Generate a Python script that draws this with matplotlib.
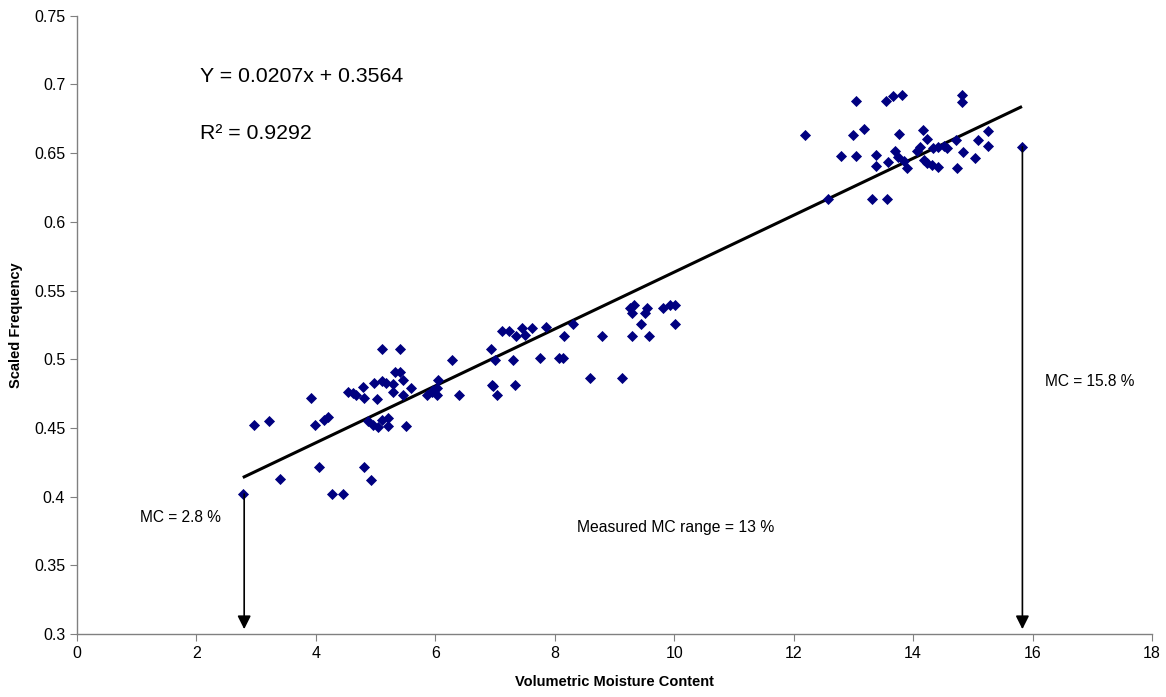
import numpy as np
import matplotlib.pyplot as plt

plt.rcParams['font.family'] = ['Liberation Sans', 'DejaVu Sans']

# measured points (volumetric moisture content, scaled frequency)
mc = [5.11, 5.41, 5.33, 5.41, 5.46, 4.97, 5.11, 5.18, 5.29, 4.79, 5.59, 4.54,
      4.62, 4.67, 4.81, 5.03, 5.29, 5.46, 3.92, 2.96, 3.22, 3.99, 4.14, 4.20,
      4.87, 4.96, 5.11, 5.21, 5.04, 5.21, 5.51, 4.05, 4.81, 3.40, 4.92, 2.78,
      4.27, 4.46,
      5.86, 5.95, 6.05, 6.03, 6.03, 5.96, 6.28, 6.40, 6.93, 7.00, 6.95, 6.97,
      7.04, 7.12, 7.24, 7.35, 7.30, 7.34, 7.45, 7.50, 7.62, 7.76, 7.86, 8.07,
      8.14, 8.16, 8.31, 8.59, 8.79, 9.13, 9.26, 9.33, 9.30, 9.45, 9.30, 9.51,
      9.55, 9.58, 9.82, 9.93, 10.02, 10.02,
      12.19, 12.58, 12.80, 13.00, 13.05, 13.05, 13.18, 13.32, 13.38, 13.38,
      13.55, 13.57, 13.58, 13.67, 13.69, 13.74, 13.77, 13.82, 13.84, 13.89,
      14.07, 14.12, 14.17, 14.24, 14.19, 14.24, 14.32, 14.34, 14.41, 14.42,
      14.52, 14.57, 14.71, 14.74, 14.82, 14.82, 14.84, 15.03, 15.08, 15.26,
      15.26, 15.83]
freq = [0.5075, 0.5075, 0.4907, 0.4907, 0.4849, 0.4827, 0.4842, 0.4827, 0.4820,
        0.4798, 0.4791, 0.4761, 0.4754, 0.4740, 0.4718, 0.4710, 0.4761, 0.4740,
        0.4718, 0.4521, 0.4550, 0.4521, 0.4557, 0.4579, 0.4550, 0.4521, 0.4557,
        0.4572, 0.4506, 0.4514, 0.4514, 0.4215, 0.4215, 0.4128, 0.4120, 0.4019,
        0.4019, 0.4019,
        0.4740, 0.4761, 0.4849, 0.4791, 0.4740, 0.4776, 0.4995, 0.4740, 0.5075,
        0.4995, 0.4812, 0.4805, 0.4740, 0.5206, 0.5206, 0.5169, 0.4995, 0.4812,
        0.5228, 0.5177, 0.5228, 0.5009, 0.5235, 0.5009, 0.5009, 0.5169, 0.5257,
        0.4863, 0.5169, 0.4863, 0.5373, 0.5395, 0.5337, 0.5257, 0.5169, 0.5337,
        0.5373, 0.5169, 0.5373, 0.5395, 0.5395, 0.5257,
        0.6633, 0.6167, 0.6480, 0.6633, 0.6881, 0.6480, 0.6677, 0.6167, 0.6488,
        0.6407, 0.6881, 0.6167, 0.6437, 0.6917, 0.6517, 0.6473, 0.6641, 0.6925,
        0.6444, 0.6393, 0.6517, 0.6546, 0.6670, 0.6604, 0.6451, 0.6429, 0.6415,
        0.6539, 0.6400, 0.6546, 0.6553, 0.6539, 0.6597, 0.6393, 0.6925, 0.6874,
        0.6510, 0.6466, 0.6597, 0.6662, 0.6553, 0.6546]

slope = 0.0207
intercept = 0.3564
mc_min = 2.8
mc_max = 15.8

fig = plt.figure(figsize=(11.66, 6.97), dpi=100)
ax = fig.add_axes([0.066, 0.0904, 0.922, 0.887])

ax.scatter(mc, freq, marker='D', s=32, color='#000080', zorder=3, linewidths=0)

# trend line
xl = np.array([mc_min, mc_max])
ax.plot(xl, slope * xl + intercept, color='black', lw=2.2, zorder=2)

# arrows down to the x axis at min / max moisture
lo_y = freq[mc.index(2.78)]
hi_y = freq[mc.index(15.83)]
for xa, ya in [(2.8, lo_y), (15.83, hi_y)]:
    ax.annotate('', xy=(xa, 0.3035), xytext=(xa, ya),
                arrowprops=dict(arrowstyle='-|>', color='black', lw=1.2,
                                mutation_scale=20, shrinkA=0, shrinkB=0))

ax.text(2.06, 0.7056, 'Y = 0.0207x + 0.3564', fontsize=15.3, va='center')
ax.text(2.06, 0.6642, 'R\u00b2 = 0.9292', fontsize=15.3, va='center')
ax.text(1.05, 0.3848, 'MC = 2.8 %', fontsize=11.2, va='center')
ax.text(16.2, 0.4835, 'MC = 15.8 %', fontsize=11.2, va='center')
ax.text(8.38, 0.3775, 'Measured MC range = 13 %', fontsize=11.3, va='center')

ax.set_xlim(0, 18)
ax.set_ylim(0.3, 0.75)
ax.set_xticks(np.arange(0, 19, 2))
ax.set_yticks(np.arange(0.3, 0.76, 0.05))
ax.set_yticklabels(['0.3', '0.35', '0.4', '0.45', '0.5', '0.55', '0.6', '0.65', '0.7', '0.75'])

for s in ['top', 'right']:
    ax.spines[s].set_visible(False)
for s in ['left', 'bottom']:
    ax.spines[s].set_color('#808080')
    ax.spines[s].set_linewidth(1.0)
ax.tick_params(colors='#808080', labelcolor='black', labelsize=11.5, length=5)

ax.set_xlabel('Volumetric Moisture Content', fontsize=10.5, fontweight='bold', labelpad=10)
ax.set_ylabel('Scaled Frequency', fontsize=10.5, fontweight='bold', labelpad=8)

fig.savefig('out.png', dpi=100)
